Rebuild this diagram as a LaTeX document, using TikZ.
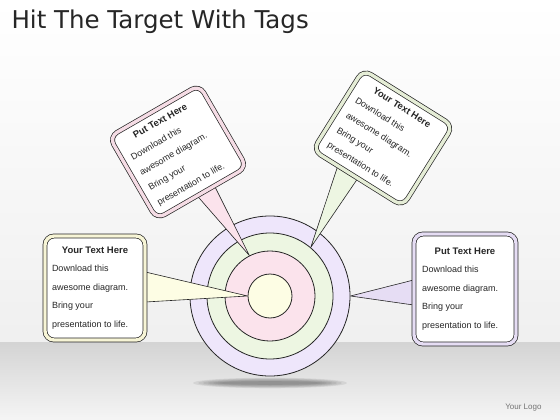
\documentclass[tikz,border=0pt]{standalone}
\usepackage{fontspec}
\setmainfont{Liberation Sans}
\newfontfamily\titlefont{DejaVu Sans}
\usetikzlibrary{calc}
\pgfdeclarelayer{back}
\pgfdeclarelayer{ptr}
\pgfsetlayers{back,ptr,main}
\definecolor{lav}{HTML}{EEE6FB}
\definecolor{grn}{HTML}{EDF6E2}
\definecolor{pnk}{HTML}{FBE3EC}
\definecolor{yel}{HTML}{FDFDE4}
\definecolor{cream}{HTML}{F7F5D6}
\definecolor{pinkb}{HTML}{F5DCE5}
\definecolor{greenb}{HTML}{E5EDD6}
\definecolor{lavb}{HTML}{E6DDF4}
\definecolor{ink}{HTML}{262626}
\newcommand\tagcontent[2]{\begin{minipage}{86pt}\centering\fontsize{9.5}{14}\selectfont\bfseries #1\par\raggedright\fontsize{9}{#2}\selectfont\mdseries Download this\par awesome diagram.\par Bring your\par presentation to life.\end{minipage}}
\tikzset{
  tagbox/.style={draw=ink, line width=0.7pt, double=#1, double distance=3.4pt, fill=white, rounded corners=9pt, inner sep=0pt, text=ink},
  ring/.style={circle, draw=ink, line width=0.8pt, fill=#1, inner sep=0pt},
  pointer/.style={draw=ink, line width=0.6pt, fill=#1, line join=round},
}
\begin{document}
\begin{tikzpicture}[x=1pt,y=-1pt]
\useasboundingbox (0,0) rectangle (560,420);
\begin{pgfonlayer}{back}
  \fill[top color=white, bottom color=black!6] (0,0) rectangle (560,342);
  \fill[top color=black!17, bottom color=black!4] (0,342) rectangle (560,420);
  \foreach \i in {1,...,6}
    \fill[black, opacity=0.07] (270,383) ellipse [x radius={82-\i*5}, y radius={6-\i*0.7}];
  \node[ring=lav, minimum size=160pt] (outer) at (270,296) {};
  \node[ring=grn, minimum size=126pt] (greenring) at (270,296) {};
  \node[ring=pnk, minimum size=90pt] (pinkring) at (270,296) {};
  \node[ring=yel, minimum size=44pt] (inner) at (270,296) {};
\end{pgfonlayer}

\node[anchor=base west, font=\titlefont\fontsize{24.5}{27}\selectfont, text=ink] (title) at (8,29) {Hit The Target With Tags};
\node[anchor=base east, font=\fontsize{8}{10}\selectfont, text=black!55] (logo) at (545,409) {Your Logo};

\node[tagbox=cream, minimum width=100pt, minimum height=104pt] (lbox) at (95,288) {\tagcontent{Your Text Here}{18.5}};
\node[tagbox=lavb, minimum width=102pt, minimum height=110pt] (rbox) at (465,289) {\tagcontent{Put Text Here}{18.5}};
\node[tagbox=pinkb, minimum width=104pt, minimum height=95pt, rotate=30] (pbox) at (178,152) {\tagcontent{Put Text Here}{17.5}};
\node[tagbox=greenb, minimum width=106pt, minimum height=95pt, rotate=-32] (gbox) at (383,138) {\tagcontent{Your Text Here}{17.5}};

\begin{pgfonlayer}{ptr}
  \draw[pointer=yel] ($(lbox.east)+(0,-16)$) -- (inner.west) -- ($(lbox.east)+(0,14)$) -- cycle;
  \draw[pointer=lavb] ($(rbox.west)+(0,-9)$) -- (outer.east) -- ($(rbox.west)+(0,16)$) -- cycle;
  \draw[pointer=pnk] ($(pbox.south west)!0.45!(pbox.south east)$) -- (pinkring.117) -- ($(pbox.south west)!0.64!(pbox.south east)$) -- cycle;
  \draw[pointer=grn] ($(gbox.south west)!0.28!(gbox.south east)$) -- (greenring.50) -- ($(gbox.south west)!0.5!(gbox.south east)$) -- cycle;
\end{pgfonlayer}
\end{tikzpicture}
\end{document}
